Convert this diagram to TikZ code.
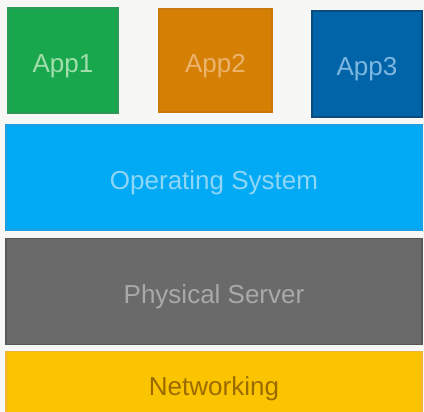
\documentclass[tikz,border=0pt]{standalone}
\usepackage{fontspec}
\setmainfont{Liberation Sans}
\definecolor{bgc}{HTML}{F7F7F5}
\definecolor{appAfill}{HTML}{19A74E}\definecolor{appAline}{HTML}{2F9A58}\definecolor{appAtext}{HTML}{A2DEAB}
\definecolor{appBfill}{HTML}{D67F05}\definecolor{appBline}{HTML}{C9780A}\definecolor{appBtext}{HTML}{EBB46C}
\definecolor{appCfill}{HTML}{0164A8}\definecolor{appCline}{HTML}{0A4C7E}\definecolor{appCtext}{HTML}{7DB6DF}
\definecolor{osfill}{HTML}{02AAF5}\definecolor{osline}{HTML}{1E9FE0}\definecolor{ostext}{HTML}{8DD6F5}
\definecolor{psfill}{HTML}{6A6A6A}\definecolor{psline}{HTML}{575757}\definecolor{pstext}{HTML}{A9A9A9}
\definecolor{netfill}{HTML}{FBC400}\definecolor{netline}{HTML}{F0B43A}\definecolor{nettext}{HTML}{9B6B00}
\tikzset{
  layer/.style={draw, line width=1.5pt, inner sep=0pt, text height=24pt, text depth=0pt,
    font=\fontsize{26}{26}\selectfont},
}
\begin{document}
\begin{tikzpicture}[x=1pt,y=-1pt]
\fill[bgc] (0,0) rectangle (424,412);
\useasboundingbox (0,0) rectangle (424,412);
\begin{scope}
\clip (0,0) rectangle (424,412);
% application tier
\node[layer, fill=appAfill, draw=appAline, text=appAtext, minimum width=110pt, minimum height=105pt] (app1) at (63,60.5) {App1};
\node[layer, fill=appBfill, draw=appBline, text=appBtext, minimum width=113pt, minimum height=103pt] (app2) at (215.5,60.5) {App2};
\node[layer, fill=appCfill, draw=appCline, text=appCtext, minimum width=110pt, minimum height=106pt] (app3) at (367,64) {App3};
% operating system
\node[layer, fill=osfill, draw=osline, text=ostext, minimum width=416pt, minimum height=105pt] (os) at (214,177.5) {Operating System};
% hardware
\node[layer, fill=psfill, draw=psline, text=pstext, minimum width=416pt, minimum height=106pt] (ps) at (214,291.5) {Physical Server};
% network
\node[layer, fill=netfill, draw=netline, text=nettext, minimum width=416pt, minimum height=64pt] (net) at (214,383.5) {Networking};
\end{scope}
\end{tikzpicture}
\end{document}
